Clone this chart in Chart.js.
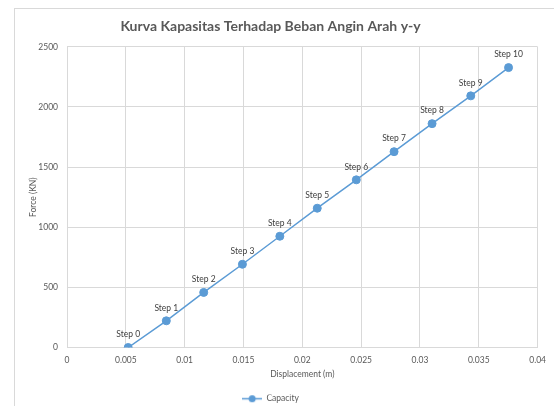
<!DOCTYPE html>
<html>
<head>
<meta charset="utf-8">
<script src="https://cdn.jsdelivr.net/npm/chart.js@4"></script>
<style>
  html, body { margin: 0; padding: 0; background: #fff; }
  #wrap { width: 554px; height: 406px; }
</style>
</head>
<body>
<div id="wrap"><canvas id="chart" width="554" height="406"></canvas></div>
<script>
// values
const stepLabels = ['Step 0', 'Step 1', 'Step 2', 'Step 3', 'Step 4', 'Step 5', 'Step 6', 'Step 7', 'Step 8', 'Step 9', 'Step 10']
const displacement = [0.0052, 0.00844, 0.01162, 0.01491, 0.01809, 0.02127, 0.02459, 0.0278, 0.03103, 0.03432, 0.03753]
const force = [0, 222, 458, 692, 925, 1158, 1394, 1628, 1861, 2092, 2327]

const blue = '#5B9BD5'
const grid = '#D9D9D9'
const textGrey = '#595959'
const fontFamily = 'Lato, "Liberation Sans", sans-serif'

// legend marker: short line with a dot, like the spreadsheet legend
const legendIcon = document.createElement('canvas')
legendIcon.width = 20
legendIcon.height = 9
{
  const c = legendIcon.getContext('2d')
  c.strokeStyle = blue
  c.lineWidth = 1.5
  c.beginPath()
  c.moveTo(0, 4.5)
  c.lineTo(20, 4.5)
  c.stroke()
  c.fillStyle = blue
  c.beginPath()
  c.arc(10, 4.5, 3.5, 0, Math.PI * 2)
  c.fill()
}

// thin border of the chart box
const frame = {
  id: 'frame',
  beforeDraw(chart) {
    const ctx = chart.ctx
    ctx.save()
    ctx.strokeStyle = grid
    ctx.lineWidth = 1
    ctx.strokeRect(14.5, 8.5, 700, 600)
    ctx.restore()
  },
}

// "Step n" labels above each point
const stepTags = {
  id: 'stepTags',
  afterDatasetsDraw(chart) {
    const ctx = chart.ctx
    const meta = chart.getDatasetMeta(0)
    ctx.save()
    ctx.font = '8.5px ' + fontFamily
    ctx.fillStyle = '#404040'
    ctx.textAlign = 'center'
    ctx.textBaseline = 'middle'
    meta.data.forEach((pt, i) => {
      ctx.fillText(stepLabels[i], pt.x, pt.y - 13)
    })
    ctx.restore()
  },
}

const points = displacement.map((x, i) => ({x: x, y: force[i]}))

new Chart(document.getElementById('chart'), {
  type: 'scatter',
  data: {
    datasets: [
      {
        label: 'Capacity',
        data: points,
        showLine: true,
        borderColor: blue,
        backgroundColor: blue,
        borderWidth: 1.5,
        pointRadius: 4,
        pointBorderWidth: 1,
        pointBorderColor: blue,
      },
    ],
  },
  options: {
    responsive: false,
    animation: false,
    layout: {
      padding: {left: 0, right: 13, top: 6, bottom: -7},
    },
    plugins: {
      title: {
        display: true,
        text: 'Kurva Kapasitas Terhadap Beban Angin Arah y-y',
        color: textGrey,
        font: {family: fontFamily, size: 14, weight: 'bold'},
        padding: {top: 12, bottom: 12},
      },
      legend: {
        position: 'bottom',
        labels: {
          usePointStyle: true,
          pointStyle: legendIcon,
          pointStyleWidth: 20,
          boxHeight: 8,
          padding: 0,
          color: textGrey,
          font: {family: fontFamily, size: 8.5},
        },
      },
      tooltip: {enabled: false},
    },
    scales: {
      x: {
        type: 'linear',
        min: 0,
        max: 0.04,
        afterFit: (scale) => { scale.height = 47 },
        ticks: {
          stepSize: 0.005,
          padding: 8,
          color: textGrey,
          font: {family: fontFamily, size: 8.5},
          callback: (v) => String(parseFloat(v.toFixed(3))),
        },
        grid: {color: grid, drawTicks: false},
        border: {color: grid},
        title: {
          display: true,
          text: 'Displacement (m)',
          color: textGrey,
          font: {family: fontFamily, size: 8.5},
          padding: {top: 0, bottom: 15},
        },
      },
      y: {
        min: 0,
        max: 2500,
        afterFit: (scale) => { scale.width = 67 },
        ticks: {
          stepSize: 500,
          padding: 9,
          color: textGrey,
          font: {family: fontFamily, size: 8.5},
          callback: (v) => String(v),
        },
        grid: {color: grid, drawTicks: false},
        border: {color: grid},
        title: {
          display: true,
          text: 'Force (KN)',
          color: textGrey,
          font: {family: fontFamily, size: 8.5},
          padding: {top: 28, bottom: 0},
        },
      },
    },
  },
  plugins: [frame, stepTags],
})
</script>
</body>
</html>
